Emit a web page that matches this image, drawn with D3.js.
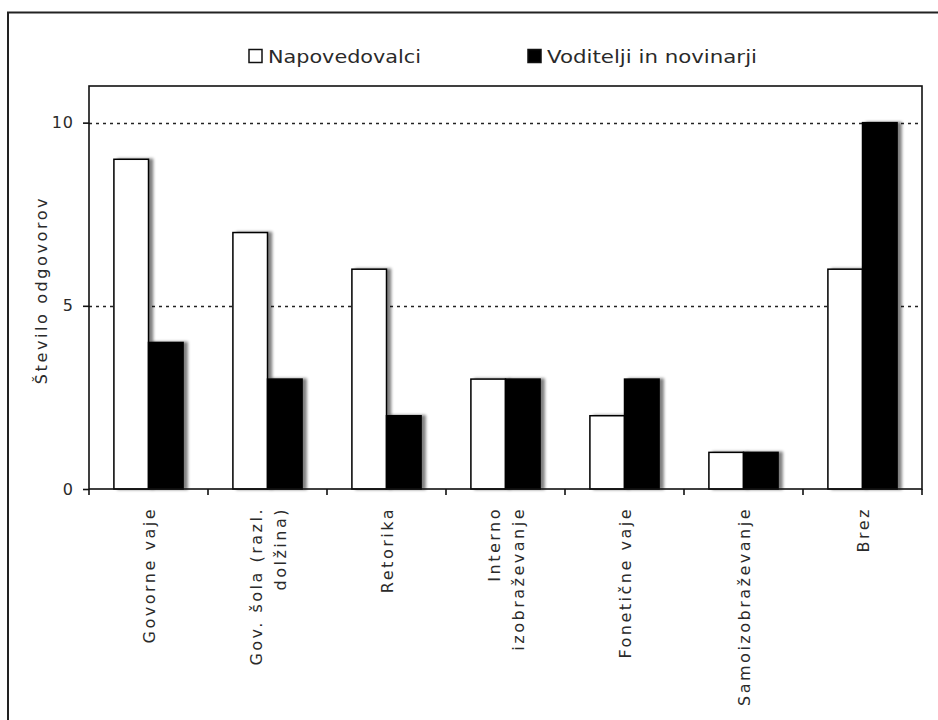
<!DOCTYPE html>
<html>
<head>
<meta charset="utf-8">
<script src="https://cdn.jsdelivr.net/npm/d3@7"></script>
<style>
  html, body { margin: 0; padding: 0; background: #fff; }
  svg { display: block; }
  text { font-family: "DejaVu Sans", Verdana, sans-serif; fill: #2a2a2a; }
</style>
</head>
<body>
<svg id="chart" width="938" height="720"></svg>
<script>
// Categories (label lines) and series values
const categories = [
  ["Govorne vaje"],
  ["Gov. šola (razl.", "dolžina)"],
  ["Retorika"],
  ["Interno", "izobraževanje"],
  ["Fonetične vaje"],
  ["Samoizobraževanje"],
  ["Brez"]
];
const napovedovalci = [9, 7, 6, 3, 2, 1, 6];
const voditelji = [4, 3, 2, 3, 3, 1, 10];
const seriesNames = ["Napovedovalci", "Voditelji in novinarji"];
const seriesFills = ["#ffffff", "#000000"];
const yTicks = [0, 5, 10];
const yTitle = "Število odgovorov";

const svg = d3.select("#chart");
const plot = { left: 89, top: 86, right: 922, bottom: 489 };

// Soft drop shadow to the right of each bar
const defs = svg.append("defs");
const f = defs.append("filter").attr("id", "shadow")
  .attr("x", "-20%").attr("y", "-5%").attr("width", "160%").attr("height", "115%");
f.append("feGaussianBlur").attr("in", "SourceAlpha").attr("stdDeviation", 1.8).attr("result", "b");
f.append("feOffset").attr("in", "b").attr("dx", 3.5).attr("dy", 0).attr("result", "o");
f.append("feComponentTransfer").attr("in", "o").attr("result", "s")
  .append("feFuncA").attr("type", "linear").attr("slope", 0.5);
const fm = f.append("feMerge");
fm.append("feMergeNode").attr("in", "s");
fm.append("feMergeNode").attr("in", "SourceGraphic");

// Outer frame
svg.append("rect").attr("x", 8).attr("y", 12.5).attr("width", 940).attr("height", 720)
  .attr("fill", "none").attr("stroke", "#222").attr("stroke-width", 2);

const x = d3.scaleBand().domain(d3.range(categories.length))
  .range([plot.left, plot.right]).paddingInner(0).paddingOuter(0);
const y = d3.scaleLinear().domain([0, 11]).range([plot.bottom, plot.top]);
const inner = d3.scaleBand().domain([0, 1]).range([0, x.bandwidth()]).paddingOuter(0.72).paddingInner(0);

// Dotted gridlines
svg.append("g").selectAll("line").data(yTicks.filter(d => d > 0)).join("line")
  .attr("x1", plot.left).attr("x2", plot.right)
  .attr("y1", d => Math.round(y(d)) + 0.5).attr("y2", d => Math.round(y(d)) + 0.5)
  .attr("stroke", "#222").attr("stroke-width", 1.3).attr("stroke-dasharray", "3,4");

// Bars
const series = [napovedovalci, voditelji];
const barG = svg.append("g");
series.forEach((vals, si) => {
  barG.append("g").attr("filter", "url(#shadow)")
    .selectAll("rect").data(vals).join("rect")
    .attr("x", (d, i) => x(i) + inner(si))
    .attr("y", d => y(d))
    .attr("width", inner.bandwidth())
    .attr("height", d => y(0) - y(d))
    .attr("fill", seriesFills[si])
    .attr("stroke", "#000").attr("stroke-width", 1.5);
});

// Plot frame
svg.append("rect").attr("x", plot.left).attr("y", plot.top)
  .attr("width", plot.right - plot.left).attr("height", plot.bottom - plot.top)
  .attr("fill", "none").attr("stroke", "#111").attr("stroke-width", 1.6);

// Y axis
const yAxis = svg.append("g").attr("transform", `translate(${plot.left},0)`)
  .call(d3.axisLeft(y).tickValues(yTicks).tickSize(6).tickPadding(9));
yAxis.select(".domain").remove();
yAxis.selectAll(".tick line").attr("stroke", "#111").attr("stroke-width", 1.6);
yAxis.selectAll(".tick text").attr("font-size", 16).attr("letter-spacing", 1)
  .attr("fill", "#3a3a3a")
  .style("font-family", "'DejaVu Sans', Verdana, sans-serif");

// X axis ticks at category boundaries
const bounds = d3.range(categories.length + 1).map(i => plot.left + i * x.bandwidth());
svg.append("g").selectAll("line").data(bounds).join("line")
  .attr("x1", d => d).attr("x2", d => d)
  .attr("y1", plot.bottom).attr("y2", plot.bottom + 6)
  .attr("stroke", "#111").attr("stroke-width", 1.6);

// Rotated category labels
const lineGap = 24;
const lab = svg.append("g");
categories.forEach((lines, i) => {
  const cx = x(i) + x.bandwidth() / 2;
  const n = lines.length;
  lines.forEach((t, k) => {
    const off = (k - (n - 1) / 2) * lineGap;
    lab.append("text")
      .attr("transform", `translate(${cx + off + 6},${plot.bottom + 18}) rotate(-90)`)
      .attr("text-anchor", "end")
      .attr("font-size", 16)
      .attr("letter-spacing", 2.5)
      .text(t);
  });
});

// Y title
svg.append("text")
  .attr("transform", `translate(47,290) rotate(-90)`)
  .attr("text-anchor", "middle")
  .attr("font-size", 16)
  .attr("letter-spacing", 2.6)
  .text(yTitle);

// Legend
const legend = [
  { x: 249, tx: 268, w: 153 },
  { x: 528, tx: 547, w: 210 }
];
legend.forEach((l, i) => {
  svg.append("rect").attr("x", l.x).attr("y", 49.5).attr("width", 13).attr("height", 13)
    .attr("fill", seriesFills[i]).attr("stroke", "#111").attr("stroke-width", 1.5);
  svg.append("text").attr("x", l.tx).attr("y", 63)
    .attr("font-size", 18)
    .attr("textLength", l.w).attr("lengthAdjust", "spacingAndGlyphs")
    .text(seriesNames[i]);
});
</script>
</body>
</html>
